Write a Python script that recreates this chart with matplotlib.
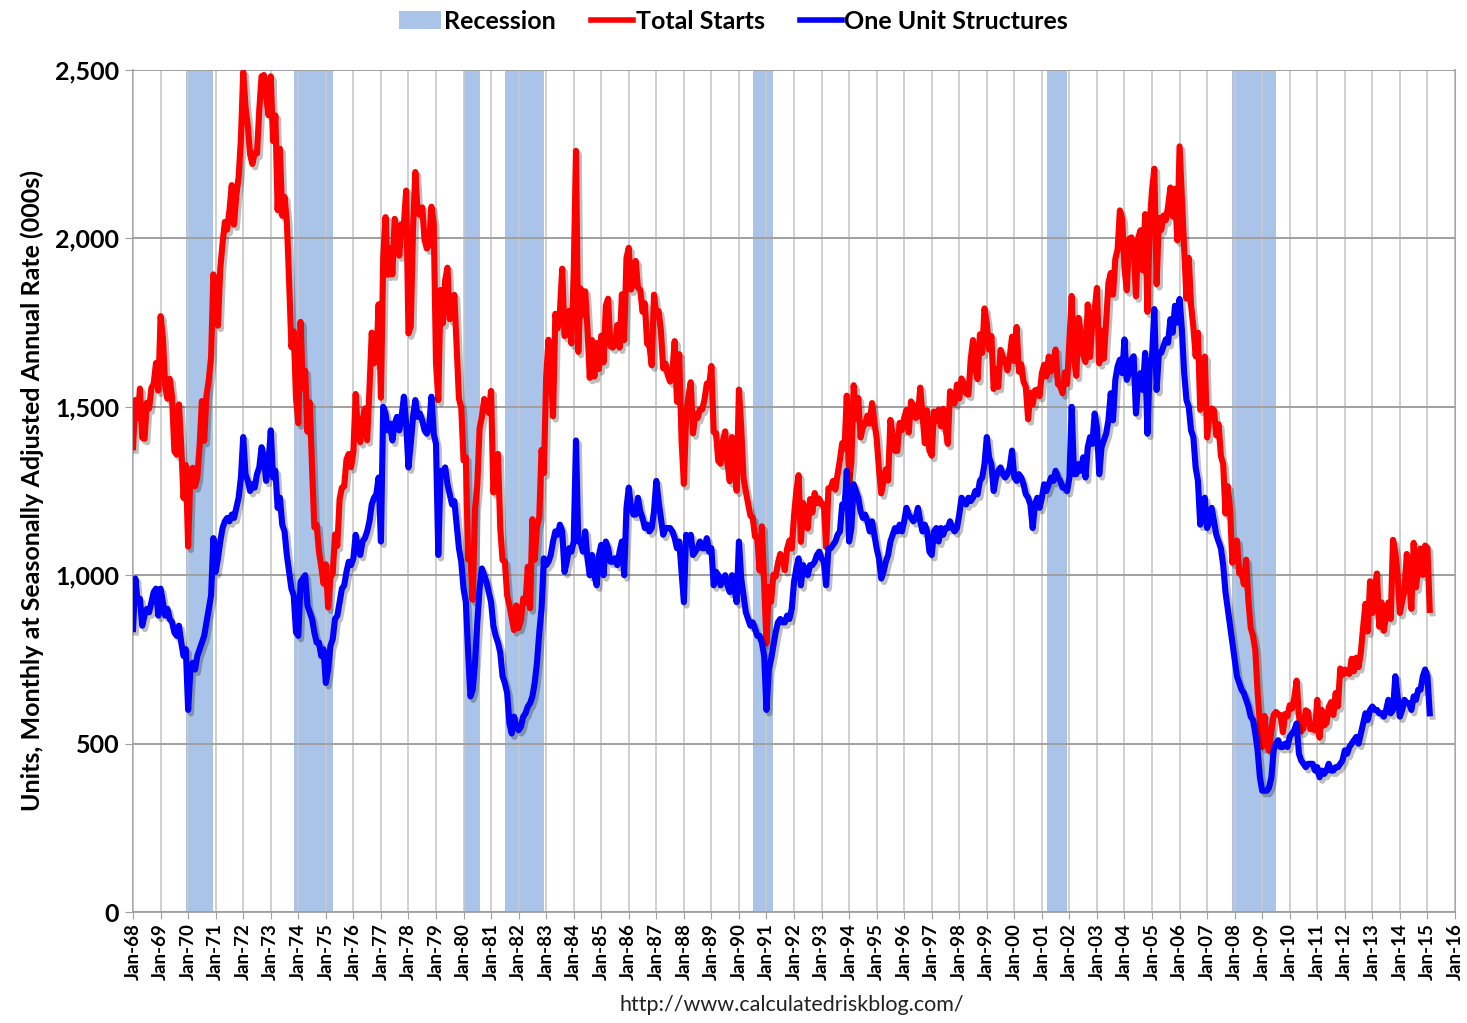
import numpy as np
import matplotlib.pyplot as plt
import matplotlib.patheffects as pe
from matplotlib.patches import Patch
from matplotlib.lines import Line2D

# Monthly housing starts, SAAR (000s), Jan 1968 - Feb 2015
total_starts = [
    1380, 1520, 1466, 1554, 1408, 1405, 1512, 1495, 1556, 1569, 1630, 1548,  # 1968
    1769, 1705, 1561, 1524, 1583, 1528, 1368, 1358, 1507, 1381, 1229, 1327,  # 1969
    1085, 1305, 1319, 1264, 1290, 1385, 1517, 1399, 1534, 1580, 1647, 1893,  # 1970
    1828, 1741, 1910, 1986, 2049, 2026, 2083, 2158, 2041, 2128, 2182, 2295,  # 1971
    2494, 2390, 2334, 2249, 2221, 2254, 2252, 2382, 2481, 2485, 2421, 2366,  # 1972
    2481, 2289, 2365, 2084, 2266, 2067, 2123, 2051, 1874, 1677, 1724, 1526,  # 1973
    1451, 1752, 1555, 1607, 1426, 1513, 1316, 1142, 1150, 1070, 1026, 975,   # 1974
    1032, 904, 993, 1005, 1121, 1087, 1226, 1260, 1264, 1344, 1360, 1321,    # 1975
    1367, 1538, 1421, 1395, 1459, 1495, 1401, 1550, 1720, 1629, 1641, 1804,  # 1976
    1527, 1943, 2063, 1892, 1971, 1893, 2058, 2020, 1949, 2042, 2042, 2142,  # 1977
    1718, 1738, 2032, 2197, 2075, 2070, 2092, 1996, 1970, 1981, 2094, 2044,  # 1978
    1630, 1520, 1847, 1748, 1876, 1913, 1760, 1778, 1832, 1681, 1524, 1498,  # 1979
    1341, 1350, 1047, 1051, 927, 1196, 1269, 1436, 1471, 1523, 1510, 1482,   # 1980
    1547, 1246, 1306, 1360, 1140, 1045, 1041, 940, 911, 873, 837, 910,       # 1981
    843, 866, 931, 917, 1025, 902, 1166, 1046, 1144, 1173, 1372, 1303,       # 1982
    1586, 1699, 1606, 1472, 1776, 1733, 1785, 1910, 1710, 1715, 1785, 1688,  # 1983
    1897, 2260, 1663, 1851, 1774, 1843, 1732, 1586, 1698, 1590, 1689, 1612,  # 1984
    1711, 1632, 1800, 1821, 1680, 1676, 1684, 1743, 1676, 1834, 1698, 1942,  # 1985
    1972, 1848, 1876, 1933, 1854, 1847, 1782, 1807, 1687, 1681, 1623, 1833,  # 1986
    1774, 1784, 1726, 1614, 1628, 1594, 1575, 1605, 1695, 1515, 1656, 1400,  # 1987
    1271, 1473, 1532, 1573, 1421, 1478, 1467, 1493, 1492, 1522, 1569, 1563,  # 1988
    1621, 1425, 1422, 1339, 1331, 1397, 1427, 1332, 1279, 1410, 1351, 1251,  # 1989
    1551, 1437, 1289, 1248, 1212, 1177, 1171, 1115, 1110, 1014, 1145, 969,   # 1990
    798, 965, 921, 1001, 996, 1036, 1063, 1049, 1015, 1079, 1103, 1079,      # 1991
    1176, 1250, 1297, 1099, 1214, 1145, 1139, 1226, 1186, 1244, 1214, 1227,  # 1992
    1210, 1210, 1083, 1258, 1260, 1280, 1254, 1300, 1343, 1392, 1376, 1533,  # 1993
    1272, 1337, 1564, 1465, 1526, 1409, 1439, 1450, 1474, 1450, 1511, 1455,  # 1994
    1407, 1316, 1243, 1278, 1314, 1281, 1461, 1416, 1369, 1369, 1452, 1431,  # 1995
    1467, 1491, 1424, 1516, 1504, 1467, 1472, 1557, 1475, 1392, 1489, 1370,  # 1996
    1355, 1486, 1457, 1492, 1442, 1494, 1437, 1390, 1546, 1520, 1510, 1566,  # 1997
    1525, 1584, 1567, 1540, 1536, 1641, 1698, 1614, 1582, 1715, 1660, 1792,  # 1998
    1748, 1670, 1710, 1553, 1611, 1559, 1669, 1648, 1635, 1608, 1648, 1708,  # 1999
    1636, 1737, 1604, 1626, 1575, 1559, 1463, 1541, 1507, 1549, 1551, 1532,  # 2000
    1600, 1625, 1590, 1649, 1605, 1636, 1670, 1567, 1562, 1540, 1602, 1568,  # 2001
    1698, 1829, 1642, 1592, 1764, 1717, 1655, 1633, 1804, 1648, 1753, 1788,  # 2002
    1853, 1629, 1726, 1643, 1751, 1867, 1897, 1833, 1939, 1967, 2083, 2057,  # 2003
    1911, 1846, 1998, 2003, 1981, 1828, 2002, 2024, 1905, 2072, 1782, 2042,  # 2004
    2144, 2207, 1864, 2061, 2025, 2068, 2054, 2095, 2151, 2065, 2147, 1994,  # 2005
    2273, 2119, 1969, 1821, 1942, 1802, 1737, 1650, 1720, 1491, 1570, 1649,  # 2006
    1409, 1480, 1495, 1490, 1415, 1448, 1354, 1330, 1183, 1264, 1197, 1037,  # 2007
    1084, 1103, 1005, 1013, 973, 1046, 923, 844, 820, 777, 652, 560,         # 2008
    490, 582, 505, 478, 540, 585, 594, 586, 585, 534, 588, 581,              # 2009
    614, 604, 636, 687, 583, 536, 546, 599, 594, 543, 545, 539,              # 2010
    630, 518, 600, 554, 561, 608, 623, 585, 650, 611, 723, 704,              # 2011
    720, 710, 707, 752, 715, 755, 727, 772, 847, 915, 833, 982,              # 2012
    888, 962, 1005, 847, 919, 835, 883, 919, 870, 1105, 1069, 1001,          # 2013
    888, 923, 955, 1063, 993, 900, 1096, 964, 1021, 1079, 1001, 1088,        # 2014
    1081, 897,                                                               # 2015
]

one_unit = [
    840, 990, 920, 930, 850, 880, 900, 890, 920, 950, 960, 880,              # 1968
    960, 920, 880, 900, 870, 860, 830, 820, 850, 800, 760, 780,              # 1969
    600, 720, 740, 720, 760, 780, 800, 820, 860, 900, 940, 1110,             # 1970
    1010, 1050, 1100, 1140, 1160, 1170, 1160, 1180, 1170, 1200, 1230, 1290,  # 1971
    1410, 1300, 1280, 1250, 1270, 1260, 1300, 1320, 1380, 1350, 1280, 1330,  # 1972
    1430, 1290, 1310, 1200, 1230, 1150, 1130, 1060, 1010, 960, 940, 830,     # 1973
    820, 980, 990, 1000, 910, 890, 870, 830, 800, 800, 760, 780,             # 1974
    680, 720, 790, 810, 870, 880, 920, 960, 970, 1010, 1040, 1030,           # 1975
    1050, 1120, 1080, 1060, 1100, 1110, 1130, 1160, 1210, 1230, 1240, 1290,  # 1976
    1100, 1500, 1480, 1430, 1450, 1400, 1450, 1470, 1430, 1470, 1530, 1450,  # 1977
    1320, 1390, 1470, 1520, 1470, 1480, 1460, 1430, 1420, 1440, 1530, 1420,  # 1978
    1390, 1060, 1310, 1300, 1320, 1270, 1240, 1210, 1220, 1150, 1080, 1040,  # 1979
    960, 920, 770, 640, 660, 740, 860, 960, 1020, 1000, 980, 950,            # 1980
    920, 850, 820, 800, 770, 700, 680, 650, 560, 530, 580, 550,              # 1981
    540, 550, 580, 590, 610, 620, 640, 680, 740, 830, 900, 1050,             # 1982
    1030, 1040, 1060, 1100, 1130, 1120, 1150, 1130, 1010, 1040, 1080, 1070,  # 1983
    1100, 1400, 1100, 1100, 1070, 1130, 1050, 1000, 1060, 1000, 970, 1060,   # 1984
    1090, 1000, 1100, 1080, 1040, 1040, 1050, 1030, 1070, 1100, 1000, 1200,  # 1985
    1260, 1200, 1180, 1180, 1230, 1190, 1170, 1140, 1150, 1130, 1140, 1190,  # 1986
    1280, 1220, 1170, 1120, 1140, 1140, 1140, 1130, 1110, 1080, 1100, 1010,  # 1987
    920, 1120, 1100, 1120, 1060, 1070, 1080, 1100, 1080, 1080, 1110, 1070,   # 1988
    1080, 970, 1010, 1000, 970, 990, 1000, 970, 950, 1000, 960, 920,         # 1989
    1100, 990, 940, 890, 870, 850, 860, 840, 820, 820, 800, 760,             # 1990
    600, 720, 750, 790, 830, 860, 870, 860, 860, 880, 870, 900,              # 1991
    980, 1020, 1050, 970, 1030, 1010, 1000, 1030, 1030, 1040, 1060, 1070,    # 1992
    1050, 1040, 970, 1080, 1080, 1090, 1100, 1120, 1130, 1210, 1200, 1310,   # 1993
    1100, 1140, 1270, 1250, 1230, 1190, 1170, 1180, 1160, 1130, 1160, 1120,  # 1994
    1080, 1050, 990, 1010, 1040, 1060, 1100, 1120, 1140, 1130, 1150, 1130,   # 1995
    1160, 1200, 1180, 1170, 1160, 1170, 1200, 1160, 1130, 1150, 1130, 1070,  # 1996
    1060, 1130, 1140, 1100, 1140, 1120, 1140, 1140, 1160, 1140, 1130, 1140,  # 1997
    1180, 1230, 1220, 1210, 1230, 1220, 1230, 1250, 1240, 1280, 1290, 1330,  # 1998
    1410, 1350, 1330, 1250, 1290, 1310, 1320, 1300, 1290, 1300, 1320, 1370,  # 1999
    1290, 1280, 1300, 1290, 1270, 1240, 1230, 1210, 1140, 1210, 1230, 1200,  # 2000
    1230, 1270, 1250, 1270, 1290, 1280, 1310, 1290, 1280, 1260, 1260, 1250,  # 2001
    1290, 1500, 1300, 1300, 1330, 1310, 1350, 1290, 1380, 1410, 1390, 1480,  # 2002
    1440, 1300, 1380, 1400, 1420, 1460, 1540, 1460, 1580, 1620, 1640, 1600,  # 2003
    1700, 1580, 1600, 1640, 1650, 1480, 1580, 1600, 1550, 1660, 1420, 1620,  # 2004
    1650, 1790, 1550, 1660, 1660, 1680, 1700, 1690, 1760, 1720, 1800, 1750,  # 2005
    1820, 1730, 1600, 1520, 1500, 1430, 1410, 1320, 1280, 1150, 1220, 1230,  # 2006
    1140, 1160, 1200, 1160, 1120, 1100, 1080, 1030, 950, 900, 850, 800,      # 2007
    750, 700, 680, 660, 650, 630, 610, 580, 570, 530, 480, 400,              # 2008
    360, 360, 360, 370, 400, 480, 500, 510, 490, 490, 500, 490,              # 2009
    520, 530, 540, 560, 470, 450, 440, 430, 440, 440, 440, 420,              # 2010
    430, 400, 420, 410, 420, 440, 420, 420, 430, 430, 440, 450,              # 2011
    480, 470, 490, 500, 510, 520, 500, 530, 560, 590, 570, 600,              # 2012
    610, 600, 600, 590, 590, 580, 600, 630, 590, 600, 700, 640,              # 2013
    580, 600, 630, 620, 620, 600, 640, 630, 660, 660, 700, 720,              # 2014
    700, 590,                                                                # 2015
]

# NBER recessions (fractional years: start, end)
rec_start = [1969.92, 1973.84, 1980.0, 1981.5, 1990.5, 2001.17, 2007.92]
rec_end = [1970.92, 1975.25, 1980.58, 1982.92, 1991.25, 2001.92, 2009.5]

years = list(range(1968, 2017))
year_labels = ["Jan-%02d" % (y % 100) for y in years]

plt.rcParams["font.family"] = ["Lato", "DejaVu Sans"]

fig = plt.figure(figsize=(14.67, 10.23), dpi=100)
ax = fig.add_axes([0.0907, 0.1085, 0.9011, 0.8231])

t = 1968 + np.arange(len(total_starts)) / 12.0

for s, e in zip(rec_start, rec_end):
    ax.axvspan(s, e, color="#a9c4e8", zorder=0, lw=0)

shadow = [pe.SimpleLineShadow(offset=(2, -2.5), alpha=0.25, shadow_color="black"), pe.Normal()]
ax.plot(t, total_starts, color="#ff0000", lw=4.4, zorder=4,
        solid_joinstyle="round", path_effects=shadow)
ax.plot(t, one_unit, color="#0000ff", lw=4.4, zorder=5,
        solid_joinstyle="round", path_effects=shadow)

ax.set_xlim(1968, 2016)
ax.set_ylim(0, 2500)
ax.set_xticks(years)
ax.set_xticklabels(year_labels, rotation=90, fontsize=13.5, fontweight="bold")
ax.set_yticks([0, 500, 1000, 1500, 2000, 2500])
ax.set_yticklabels(["0", "500", "1,000", "1,500", "2,000", "2,500"],
                   fontsize=18, fontweight="bold")
ax.tick_params(axis="x", length=5, color="#a0a0a0", pad=3)
ax.tick_params(axis="y", length=6, color="#a0a0a0", pad=4)

ax.grid(axis="x", color="#c8c8c8", lw=1.2, zorder=1)
ax.grid(axis="y", color="#a0a0a0", lw=1.4, zorder=1)
ax.set_axisbelow(False)
for gl in ax.get_xgridlines() + ax.get_ygridlines():
    gl.set_zorder(1)
for sp in ax.spines.values():
    sp.set_color("#a0a0a0")
    sp.set_linewidth(1.3)
ax.spines["top"].set_visible(False)

ax.set_ylabel("Units, Monthly at Seasonally Adjusted Annual Rate (000s)",
              fontsize=18, fontweight="bold", labelpad=8)

handles = [
    Patch(facecolor="#a9c4e8", edgecolor="none", label="Recession"),
    Line2D([0], [0], color="#ff0000", lw=4, label="Total Starts"),
    Line2D([0], [0], color="#0000ff", lw=4, label="One Unit Structures"),
]
fig.legend(handles=handles, loc="center", bbox_to_anchor=(0.5, 0.979), ncol=3,
           frameon=False, prop={"weight": "bold", "size": 18},
           handlelength=1.7, handletextpad=0.1, columnspacing=1.4)

fig.text(0.54, 0.008, "http://www.calculatedriskblog.com/", ha="center",
         va="bottom", fontsize=15.5, color="#222222")

fig.savefig("out.png", dpi=100)
